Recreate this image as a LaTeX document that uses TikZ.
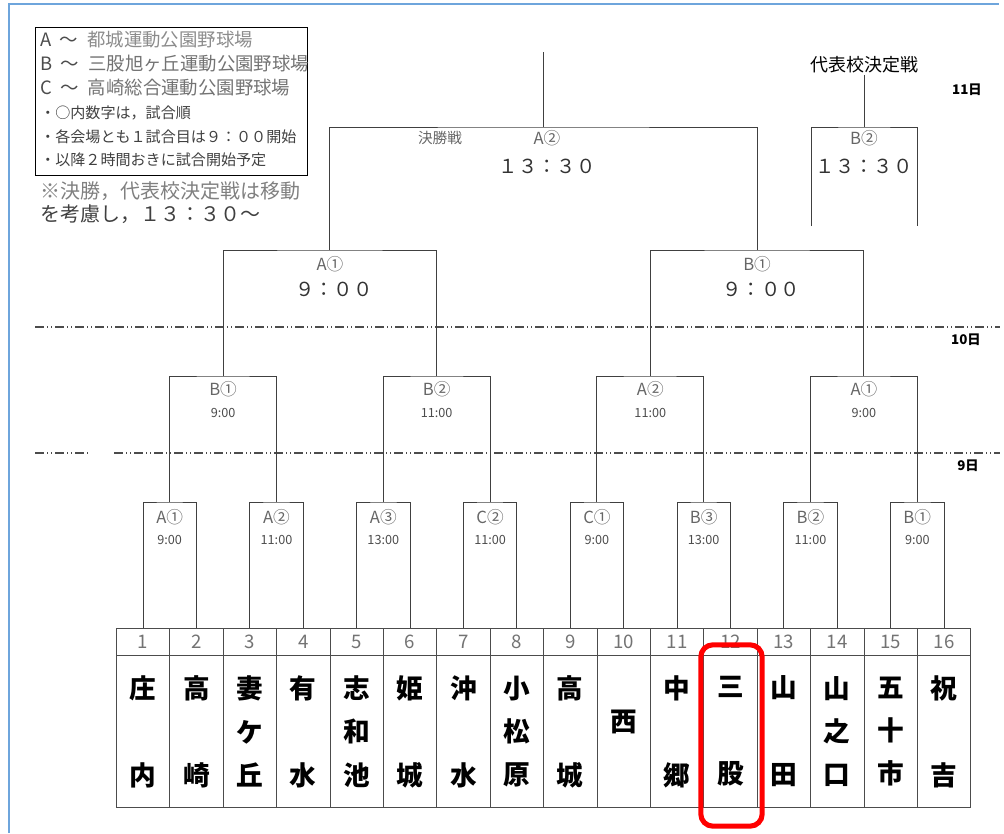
\documentclass[tikz,border=0pt]{standalone}
\usepackage{fontspec}
\setmainfont{Noto Sans CJK JP}
\usetikzlibrary{arrows,shapes,positioning}
\definecolor{pageblue}{RGB}{110,165,220}
\tikzstyle{pageframe}=[draw=pageblue,line width=1.3pt]
\tikzstyle{numcell}=[draw,black!70,text=black!55,minimum width=40.05pt,minimum height=20.25pt,inner sep=0pt,font=\fontsize{14}{14}\selectfont]
\tikzstyle{namecell}=[draw,black!70,text=black,minimum width=40.05pt,minimum height=114pt,inner sep=0pt,align=center,font=\bfseries\fontsize{20}{32.6}\selectfont]
\tikzstyle{bracket}=[draw,black!75,line width=0.7pt]
\tikzstyle{sitelabel}=[text=black!60,inner sep=0pt,font=\fontsize{12.5}{12.5}\selectfont]
\tikzstyle{timelabel}=[text=black!70,inner sep=0pt,font=\fontsize{9.5}{9.5}\selectfont]
\tikzstyle{bigtime}=[text=black!80,inner sep=0pt,font=\fontsize{14.5}{14.5}\selectfont]
\tikzstyle{dayline}=[draw,black!70,line width=1.1pt,dash pattern=on 7pt off 2pt on 1pt off 2pt on 1pt off 2pt]
\tikzstyle{daylabel}=[inner sep=0pt,font=\bfseries\fontsize{10}{10}\selectfont]
\tikzstyle{legendbig}=[anchor=west,inner sep=0pt,text=black!70,font=\fontsize{13.8}{13.8}\selectfont]
\tikzstyle{legendsmall}=[anchor=west,inner sep=0pt,text=black!75,font=\fontsize{11.3}{11.3}\selectfont]
\tikzstyle{notetext}=[anchor=west,inner sep=0pt,text=black!75,font=\fontsize{15}{15}\selectfont]

\begin{document}
\begin{tikzpicture}[x=0.75pt,y=-0.75pt]
    \useasboundingbox (0,0) rectangle (1004,833);
    % frame of the page
    \draw[pageframe] (9,833) -- (9,4) -- (999,4);

    % legend in the corner
    \node[draw,line width=1.1pt,anchor=north west,minimum width=204pt,minimum height=111pt,inner sep=0pt] (legend) at (35,27) {};
    \foreach \name/\y/\txt in {la/40/{A\hspace{0.45em}～\hspace{0.5em}\textcolor{black!45}{都城運動公園野球場}},
                               lb/64/{B\hspace{0.45em}～\hspace{0.5em}\textcolor{black!55}{三股旭ヶ丘運動公園野球場}},
                               lc/88/{C\hspace{0.45em}～\hspace{0.5em}\textcolor{black!55}{高崎総合運動公園野球場}}}
        \node[legendbig] (\name) at (40,\y) {\txt};
    \foreach \name/\y/\txt in {ld/113/{・○内数字は，試合順},
                               le/137/{・各会場とも１試合目は９：００開始},
                               lf/160/{・以降２時間おきに試合開始予定}}
        \node[legendsmall] (\name) at (40,\y) {\txt};
    \node[notetext,text=black!50] (note1) at (40,191) {※決勝，代表校決定戦は移動};
    \node[notetext] (note2) at (40,214) {を考慮し，１３：３０～};

    % the days
    \coordinate (d10l) at (35,327);
    \coordinate (d10r) at (1000,327);
    \coordinate (d9l) at (35,453);
    \coordinate (d9gl) at (89,453);
    \coordinate (d9gr) at (114,453);
    \coordinate (d9r) at (1000,453);
    \path[dayline] (d10l) -- (d10r);
    \path[dayline] (d9l) -- (d9gl);
    \path[dayline] (d9gr) -- (d9r);
    \node[daylabel] (day11) at (967,90) {11日};
    \node[daylabel] (day10) at (966,340) {10日};
    \node[daylabel] (day9) at (968,466) {9日};

    % table of the schools
    \foreach \i/\school in {1/{庄\\\mbox{}\\内}, 2/{高\\\mbox{}\\崎}, 3/{妻\\ケ\\丘}, 4/{有\\\mbox{}\\水},
                            5/{志\\和\\池}, 6/{姫\\\mbox{}\\城}, 7/{沖\\\mbox{}\\水}, 8/{小\\松\\原},
                            9/{高\\\mbox{}\\城}, 10/{\mbox{}\\西\\\mbox{}}, 11/{中\\\mbox{}\\郷}, 12/{三\\\mbox{}\\股},
                            13/{山\\\mbox{}\\田}, 14/{山\\之\\口}, 15/{五\\十\\市}, 16/{祝\\\mbox{}\\吉}}
    {
        \pgfmathsetmacro{\x}{143+53.4*(\i-1)}
        \node[numcell] (n\i) at (\x,641.5) {\i};
        \node[namecell,below=0pt of n\i] (s\i) {\school};
    }

    % first round, 9th
    \foreach \k/\l/\r/\site/\time in {1/1/2/A①/9:00, 2/3/4/A②/11:00, 3/5/6/A③/13:00, 4/7/8/C②/11:00,
                                      5/9/10/C①/9:00, 6/11/12/B③/13:00, 7/13/14/B②/11:00, 8/15/16/B①/9:00}
    {
        \pgfmathsetmacro{\x}{169.7+106.8*(\k-1)}
        \coordinate (a\k) at (\x,502);
        \path[bracket] (n\l.north) |- (a\k) -| (n\r.north);
        \node[sitelabel] (as\k) at (\x,517) {\site};
        \node[timelabel] (at\k) at (\x,540) {\time};
    }

    % second round, 10th
    \foreach \k/\l/\r/\site/\time in {1/1/2/B①/9:00, 2/3/4/B②/11:00, 3/5/6/A②/11:00, 4/7/8/A①/9:00}
    {
        \pgfmathsetmacro{\x}{223.1+213.6*(\k-1)}
        \coordinate (b\k) at (\x,376);
        \path[bracket] (a\l) |- (b\k) -| (a\r);
        \node[sitelabel] (bs\k) at (\x,389) {\site};
        \node[timelabel] (bt\k) at (\x,413) {\time};
    }

    % third round
    \foreach \k/\l/\r/\site in {1/1/2/A①, 2/3/4/B①}
    {
        \pgfmathsetmacro{\x}{329.9+427.2*(\k-1)}
        \coordinate (c\k) at (\x,250);
        \path[bracket] (b\l) |- (c\k) -| (b\r);
        \node[sitelabel] (cs\k) at (\x,264) {\site};
        \node[bigtime] (ct\k) at (\x+4,289) {９：００};
    }

    % final, 11th
    \coordinate (fin) at (543.5,127);
    \coordinate (fintop) at (543.5,52);
    \path[bracket] (c1) |- (fin) -| (c2);
    \path[bracket] (fin) -- (fintop);
    \node[sitelabel,font=\fontsize{11}{11}\selectfont] (finname) at (440,138) {決勝戦};
    \node[sitelabel] (finsite) at (547,138) {A②};
    \node[bigtime] (fintime) at (547,166) {１３：３０};

    % deciding the representative school
    \coordinate (rep) at (864,127);
    \coordinate (repl) at (811,226);
    \coordinate (repr) at (917,226);
    \node[inner sep=1pt,font=\fontsize{13.5}{13.5}\selectfont] (reptitle) at (864,65) {代表校決定戦};
    \path[bracket] (repl) |- (rep) -| (repr);
    \path[bracket] (reptitle) -- (rep);
    \node[sitelabel] (repsite) at (864,138) {B②};
    \node[bigtime] (reptime) at (864,166) {１３：３０};

    % mark on Mimata
    \node[draw=red,line width=3.8pt,rounded corners=9pt,minimum width=46pt,minimum height=136pt] (mark) at (731.5,735.5) {};
\end{tikzpicture}
\end{document}
